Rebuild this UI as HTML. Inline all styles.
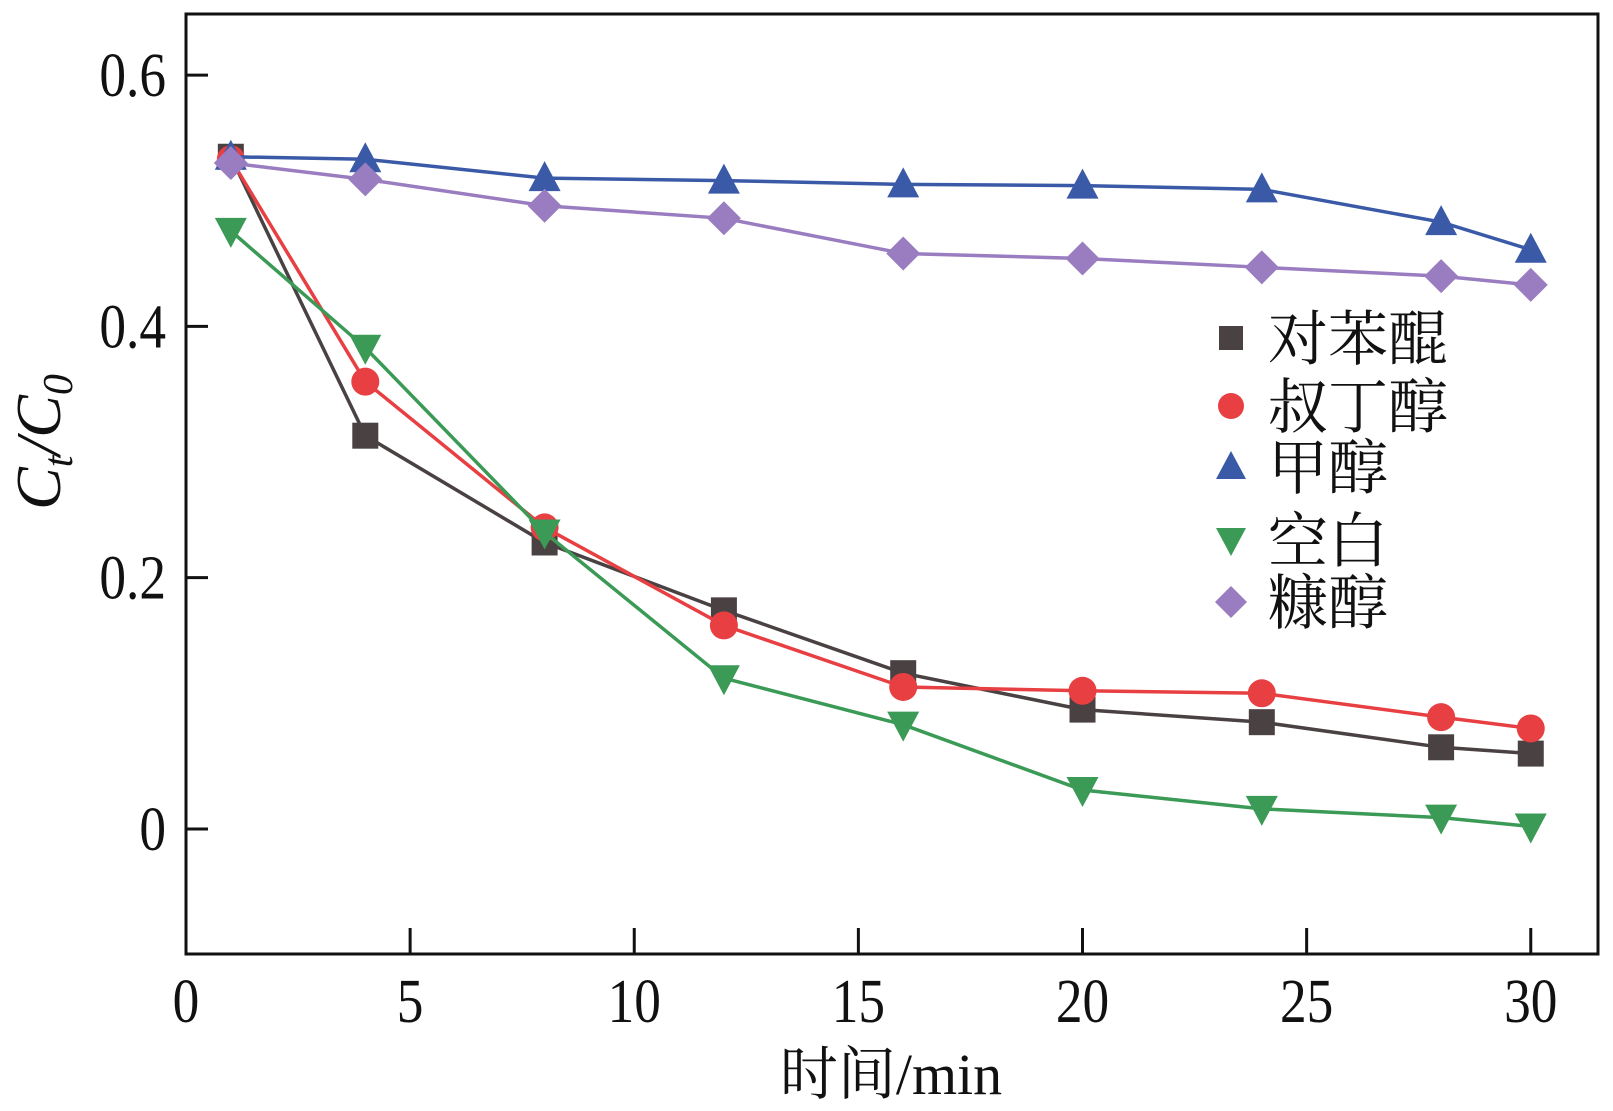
<!DOCTYPE html>
<html><head><meta charset="utf-8"><style>
html,body{margin:0;padding:0;background:#fff;}
svg{display:block;}
text{font-family:"Liberation Serif","Noto Serif CJK SC",serif;fill:#111;}
</style></head><body>
<svg id="chart" width="1613" height="1111" viewBox="0 0 1613 1111" xmlns="http://www.w3.org/2000/svg"></svg>
<script>
const times = [1,4,8,12,16,20,24,28,30];
const seriesNames = ["对苯醌","叔丁醇","甲醇","空白","糠醇"];
const benzoquinone = [0.535,0.313,0.228,0.174,0.124,0.095,0.085,0.065,0.06];
const tbutanol = [0.533,0.356,0.24,0.162,0.113,0.11,0.108,0.089,0.08];
const methanol = [0.535,0.533,0.518,0.516,0.513,0.512,0.509,0.483,0.461];
const blank = [0.476,0.383,0.236,0.12,0.083,0.031,0.016,0.009,0.002];
const furfuryl = [0.53,0.517,0.496,0.486,0.458,0.454,0.447,0.44,0.433];
const xTicks = [0,5,10,15,20,25,30];
const yTicks = [0,0.2,0.4,0.6];
const yTickLabels = ["0","0.2","0.4","0.6"];

const svg = document.getElementById('chart');
const NS = 'http://www.w3.org/2000/svg';
const L=186,R=1598,T=14,B=954;
const xMin=0,xMax=31.5,yMin=-0.0995,yMax=0.6486;
function xs(v){return L+(v-xMin)/(xMax-xMin)*(R-L);}
function ys(v){return B-(v-yMin)/(yMax-yMin)*(B-T);}
function mk(tag,attrs,parent){const e=document.createElementNS(NS,tag);for(const k in attrs)e.setAttribute(k,attrs[k]);(parent||svg).appendChild(e);return e;}

const frame=mk('rect',{x:L,y:T,width:R-L,height:B-T,fill:'none',stroke:'#111','stroke-width':3});



xTicks.forEach(v=>{
  const t=mk('line',{x1:xs(v),x2:xs(v),y1:B,y2:B-26,stroke:'#111','stroke-width':3});
  
  
  const lb=mk('text',{transform:`translate(${xs(v)},1022) scale(0.86,1)`,'text-anchor':'middle','font-size':62});
  lb.textContent=String(v);
  
  
});
yTicks.forEach((v,i)=>{
  const t=mk('line',{x1:L,x2:L+22,y1:ys(v),y2:ys(v),stroke:'#111','stroke-width':3});
  
  
  const lb=mk('text',{transform:`translate(166,${ys(v)+21}) scale(0.86,1)`,'text-anchor':'end','font-size':62});
  lb.textContent=yTickLabels[i];
  
  
});

const xt=mk('text',{x:891,y:1094,'text-anchor':'middle','font-size':58});
xt.textContent='时间/min';


const yt=mk('text',{transform:'translate(60,442) rotate(-90)','text-anchor':'middle','font-size':64,'font-style':'italic'});
yt.innerHTML='C<tspan font-size="42" dy="12">t</tspan><tspan dy="-12">/C</tspan><tspan font-size="42" dy="12">0</tspan>';



const colors=['#4a4242','#e83f42','#3a5aa8','#3b9a55','#9a7cc0'];
const shapes=['square','circle','up','down','diamond'];
const allSeries=[benzoquinone,tbutanol,methanol,blank,furfuryl];
const names=['benzoquinone','tert-butanol','methanol','blank','furfuryl-alcohol'];

function marker(shape,cx,cy,color,parent,s){
  s=s||14;
  let e;
  if(shape==='square') e=mk('rect',{x:cx-s+1,y:cy-s+1,width:2*s-2,height:2*s-2,fill:color},parent);
  else if(shape==='circle') e=mk('circle',{cx:cx,cy:cy,r:s,fill:color},parent);
  else if(shape==='up') e=mk('polygon',{points:`${cx},${cy-s-3} ${cx+s+2},${cy+s-1} ${cx-s-2},${cy+s-1}`,fill:color},parent);
  else if(shape==='down') e=mk('polygon',{points:`${cx},${cy+s+3} ${cx+s+2},${cy-s+1} ${cx-s-2},${cy-s+1}`,fill:color},parent);
  else e=mk('polygon',{points:`${cx},${cy-s-3} ${cx+s+3},${cy} ${cx},${cy+s+3} ${cx-s-3},${cy}`,fill:color},parent);
  return e;
}

allSeries.forEach((vals,si)=>{
  const g=mk('g',{});
  
  
  const pts=vals.map((v,i)=>xs(times[i])+','+ys(v)).join(' ');
  const pl=mk('polyline',{points:pts,fill:'none',stroke:colors[si],'stroke-width':3.5},g);
  
  
  vals.forEach((v,i)=>{
    const m=marker(shapes[si],xs(times[i]),ys(v),colors[si],g);
    
    
  });
});

const legend=mk('g',{});


const legY=[338,406,467,540,602];
seriesNames.forEach((n,i)=>{
  const g=mk('g',{},legend);
  
  
  marker(shapes[i],1231,legY[i],colors[i],g,13);
  const t=mk('text',{x:1268,y:legY[i]+22,'font-size':60},g);
  t.textContent=n;
});
</script>
</body></html>
